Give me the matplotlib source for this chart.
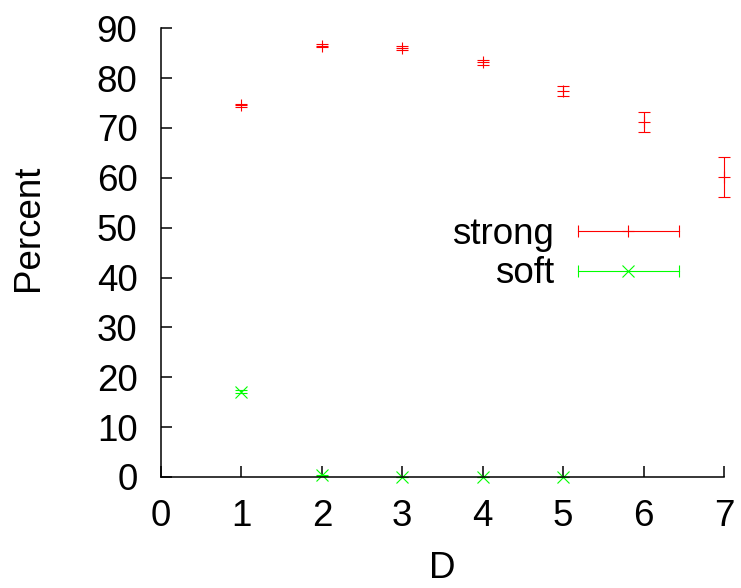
import matplotlib
matplotlib.use('Agg')
import matplotlib.pyplot as plt
from matplotlib.legend_handler import HandlerBase
from matplotlib.lines import Line2D

plt.rcParams['font.family'] = ['Liberation Sans', 'DejaVu Sans']

# data
d_values = [1, 2, 3, 4, 5, 6, 7]
strong_pct = [74.6, 86.5, 86.1, 83.2, 77.4, 71.1, 60.1]
strong_err = [0.3, 0.3, 0.4, 0.5, 1.0, 2.0, 4.0]

soft_d = [1, 2, 3, 4, 5]
soft_pct = [17.1, 0.3, 0.0, 0.0, 0.0]
soft_err = [0.3, 0.1, 0.0, 0.0, 0.0]

x_ticks = [0, 1, 2, 3, 4, 5, 6, 7]
y_ticks = [0, 10, 20, 30, 40, 50, 60, 70, 80, 90]

FS = 26.5


# gnuplot style legend sample: horizontal bar with caps and marker in the middle
class ErrKeyHandler(HandlerBase):
    def __init__(self, color, marker):
        super().__init__()
        self.color = color
        self.marker = marker

    def create_artists(self, legend, orig_handle, xdescent, ydescent,
                       width, height, fontsize, trans):
        y = height / 2 - ydescent
        x0, x1 = -xdescent, width - xdescent
        bar = Line2D([x0, x1], [y, y], color=self.color, lw=0.8, transform=trans)
        caps = Line2D([x0, x1], [y, y], color=self.color, lw=0, marker='|',
                      markersize=8, markeredgewidth=0.8, transform=trans)
        mid = Line2D([(x0 + x1) / 2], [y], color=self.color, lw=0,
                     marker=self.marker, markersize=9, markeredgewidth=0.8,
                     transform=trans)
        return [bar, caps, mid]


fig = plt.figure(figsize=(7.41, 5.88), dpi=100)
ax = fig.add_axes([0.2173, 0.1888, 0.7598, 0.7632])

h_strong = ax.errorbar(d_values, strong_pct, yerr=strong_err, fmt='+', color='#ff0000',
                       markersize=9, markeredgewidth=0.8, elinewidth=0.8,
                       capsize=4, capthick=0.8, label='strong')
h_soft = ax.errorbar(soft_d, soft_pct, yerr=soft_err, fmt='x', color='#00ff00',
                     markersize=9, markeredgewidth=0.8, elinewidth=0.8,
                     capsize=4, capthick=0.8, label='soft')
for cont in (h_strong, h_soft):
    for art in cont.get_children():
        art.set_clip_on(False)

ax.set_xlim(0, 7)
ax.set_ylim(0, 90)
ax.set_xticks(x_ticks)
ax.set_yticks(y_ticks)
ax.tick_params(direction='in', length=8, width=1.1, labelsize=FS)
ax.tick_params(axis='y', pad=17)
ax.tick_params(axis='x', pad=16)
ax.spines['top'].set_visible(False)
ax.spines['right'].set_visible(False)
ax.spines['left'].set_linewidth(1.1)
ax.spines['bottom'].set_linewidth(1.1)

ax.set_xlabel('D', fontsize=FS, va='center')
ax.xaxis.set_label_coords(0.5, -0.203)
ax.set_ylabel('Percent', fontsize=FS, va='center')
ax.yaxis.set_label_coords(-0.236, 0.555)

ax.legend([h_strong, h_soft], ['strong', 'soft'],
          handler_map={h_strong: ErrKeyHandler('#ff0000', '+'),
                       h_soft: ErrKeyHandler('#00ff00', 'x')},
          loc='upper right', bbox_to_anchor=(679 / 741, 1 - 217 / 588),
          bbox_transform=fig.transFigure, frameon=False, fontsize=FS,
          markerfirst=False, handlelength=2.75, handletextpad=0.65,
          labelspacing=0.12, borderpad=0, borderaxespad=0)

fig.savefig('out.png', dpi=100)
